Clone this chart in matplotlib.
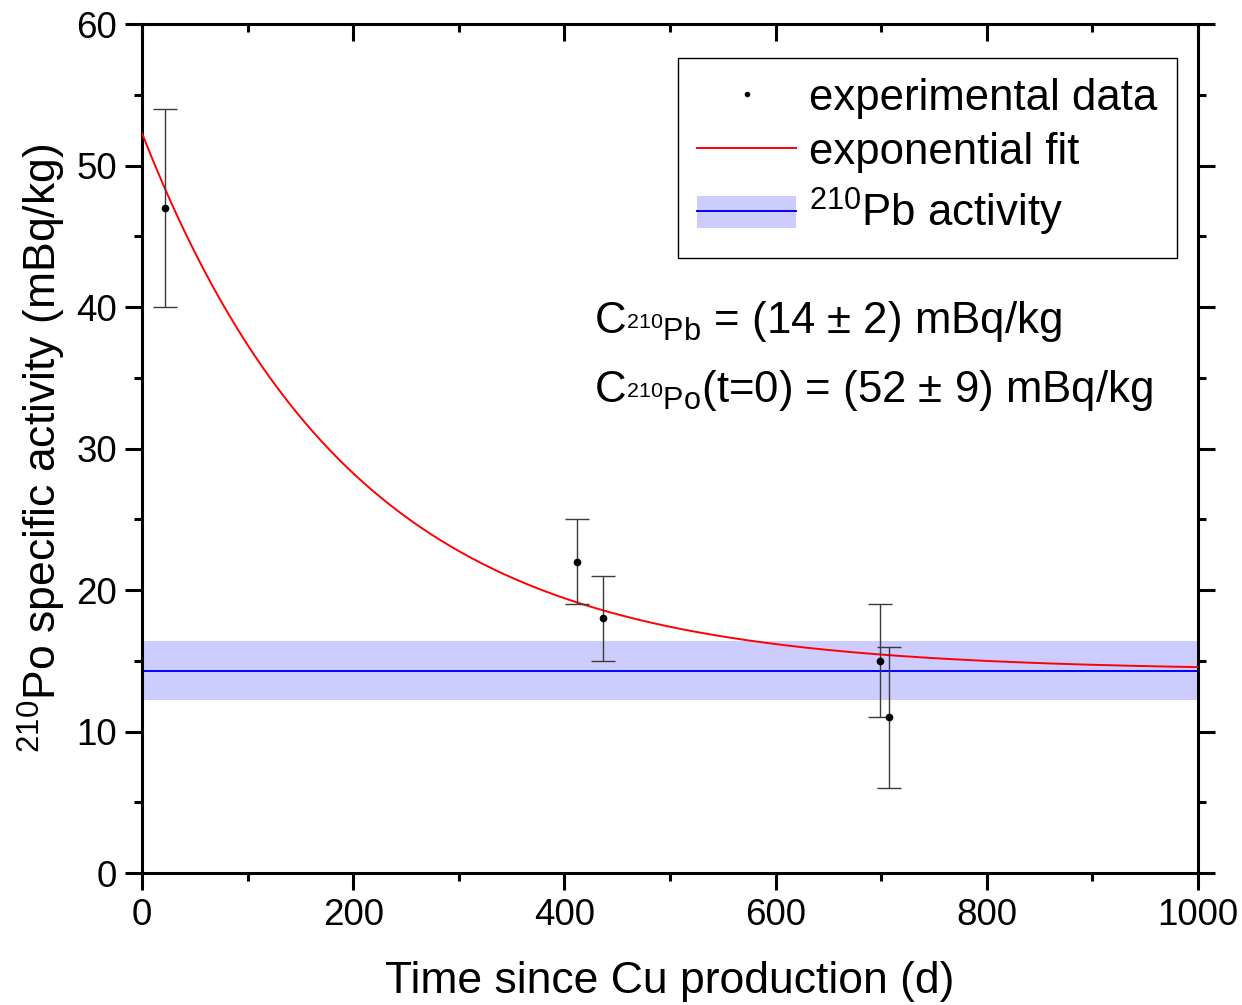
import numpy as np
import matplotlib
matplotlib.use("Agg")
import matplotlib.pyplot as plt
from matplotlib.patches import Patch
from matplotlib.lines import Line2D
from matplotlib.legend_handler import HandlerTuple
from matplotlib.ticker import MultipleLocator

plt.rcParams['font.family'] = ['Liberation Sans', 'DejaVu Sans']
plt.rcParams['mathtext.fontset'] = 'custom'
plt.rcParams['mathtext.rm'] = 'Liberation Sans'
plt.rcParams['mathtext.it'] = 'Liberation Sans:italic'
plt.rcParams['mathtext.bf'] = 'Liberation Sans:bold'

t_days = [22, 412, 437, 699, 707]
activity = [47, 22, 18, 15, 11]
activity_err = [7, 3, 3, 4, 5]

# Parametros del ajuste
c_po0 = 52.3       # mBq/kg a t=0
c_pb = 14.3        # mBq/kg
c_pb_err = 2.1
half_life = 138.4  # d, Po-210

x_ticks = [0, 200, 400, 600, 800, 1000]
y_ticks = [0, 10, 20, 30, 40, 50, 60]

fig = plt.figure(figsize=(12.42, 10.05), dpi=100)
ax = fig.add_axes([0.1143, 0.1313, 0.8503, 0.8447])

# Banda del 210Pb
band = ax.axhspan(c_pb - c_pb_err, c_pb + c_pb_err, color='#ccccff', lw=0, zorder=1)
pb_line = ax.axhline(c_pb, color='#0000ff', lw=1.4, zorder=2)

# Curva de ajuste
tt = np.linspace(0, 1000, 500)
lam = np.log(2) / half_life
fit = c_pb + (c_po0 - c_pb) * np.exp(-lam * tt)
fit_line, = ax.plot(tt, fit, color='#ff0000', lw=1.4, zorder=3)

# Puntos con barras de error
ax.errorbar(t_days, activity, yerr=activity_err, fmt='none', ecolor='#3a3a3a',
            elinewidth=1, capsize=8.5, capthick=1, zorder=4)
ax.plot(t_days, activity, 'o', color='black', ms=4.5, zorder=5)

ax.set_xlim(0, 1000)
ax.set_ylim(0, 60)
ax.set_xticks(x_ticks)
ax.set_yticks(y_ticks)
ax.xaxis.set_minor_locator(MultipleLocator(100))
ax.yaxis.set_minor_locator(MultipleLocator(5))

for s in ax.spines.values():
    s.set_linewidth(2.2)
ax.tick_params(which='both', width=2.2, labelsize=26.5, direction='out', pad=6)
ax.tick_params(which='major', length=12)
ax.tick_params(which='minor', length=6)
ax.tick_params(which='both', top=True, right=True)

# Ticks superiores y derechos hacia dentro
for tk in ax.xaxis.get_major_ticks() + ax.xaxis.get_minor_ticks():
    tk.tick2line.set_marker(3)
for tk in ax.yaxis.get_major_ticks() + ax.yaxis.get_minor_ticks():
    tk.tick2line.set_marker(1)

ax.set_xlabel('Time since Cu production (d)', fontsize=32, labelpad=20)
ax.set_ylabel(r'$^{210}$Po specific activity (mBq/kg)', fontsize=32, labelpad=6)

handles = [Line2D([], [], marker='o', color='black', ms=3, ls='none'),
           fit_line,
           (Patch(color='#ccccff', lw=0), Line2D([], [], color='#0000ff', lw=1.4))]
leg = ax.legend(handles, ['experimental data', 'exponential fit', r'$^{210}$Pb activity'],
                handler_map={tuple: HandlerTuple(ndivide=1, pad=0)},
                loc='upper right', bbox_to_anchor=(0.980, 0.960), borderaxespad=0,
                fontsize=31.5, fancybox=False, framealpha=1, edgecolor='black',
                handlelength=2.25, handleheight=0.75, handletextpad=0.3,
                labelspacing=0.3, borderpad=0.45)
leg.get_frame().set_linewidth(1)

ax.text(0.428, 0.636, r'C$_{^{210}\mathrm{Pb}}$ = (14 $\pm$ 2) mBq/kg',
        transform=ax.transAxes, fontsize=31.5, va='baseline')
ax.text(0.428, 0.555, r'C$_{^{210}\mathrm{Po}}$(t=0) = (52 $\pm$ 9) mBq/kg',
        transform=ax.transAxes, fontsize=31.5, va='baseline')

fig.savefig('out.png', dpi=100)
